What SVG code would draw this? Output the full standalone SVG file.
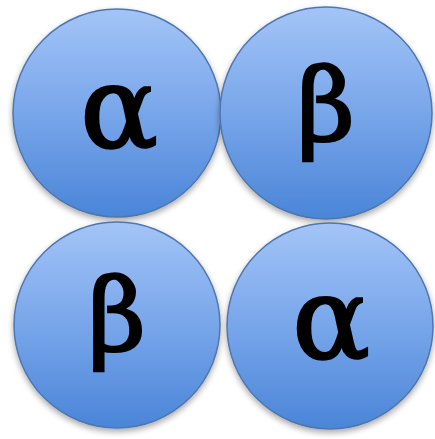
<svg xmlns="http://www.w3.org/2000/svg" width="435" height="439" viewBox="0 0 435 439">
<defs>
<linearGradient id="g" x1="0" y1="0" x2="0" y2="1">
<stop offset="0" stop-color="#a3c4f7"/>
<stop offset="0.5" stop-color="#78a6ea"/>
<stop offset="1" stop-color="#4a85d8"/>
</linearGradient>
<filter id="sh" x="-20%" y="-20%" width="140%" height="140%">
<feGaussianBlur in="SourceAlpha" stdDeviation="3"/>
<feOffset dy="3"/>
<feComponentTransfer><feFuncA type="linear" slope="0.35"/></feComponentTransfer>
<feMerge><feMergeNode/><feMergeNode in="SourceGraphic"/></feMerge>
</filter>
</defs>
<style>
.c{fill:url(#g);stroke:#4f76ad;stroke-width:1.5;filter:url(#sh)}
.t{font-family:"DejaVu Serif","Liberation Serif",serif;fill:#000;stroke:#000;stroke-width:2.5;text-anchor:middle}
.a{font-size:115px}
.b{font-size:100px}
</style>
<rect width="435" height="439" fill="#fff"/>
<g id="node-tl"><circle class="c" cx="117" cy="113" r="104"/><text class="t a" x="119" y="147">α</text></g>
<g id="node-tr"><circle class="c" cx="326" cy="113" r="106"/><text class="t b" x="326" y="140">β</text></g>
<g id="node-bl"><circle class="c" cx="117" cy="325" r="103"/><text class="t b" x="117" y="350">β</text></g>
<g id="node-br"><circle class="c" cx="330" cy="326" r="103"/><text class="t a" x="331" y="358">α</text></g>
<g id="connectors"/>
</svg>
